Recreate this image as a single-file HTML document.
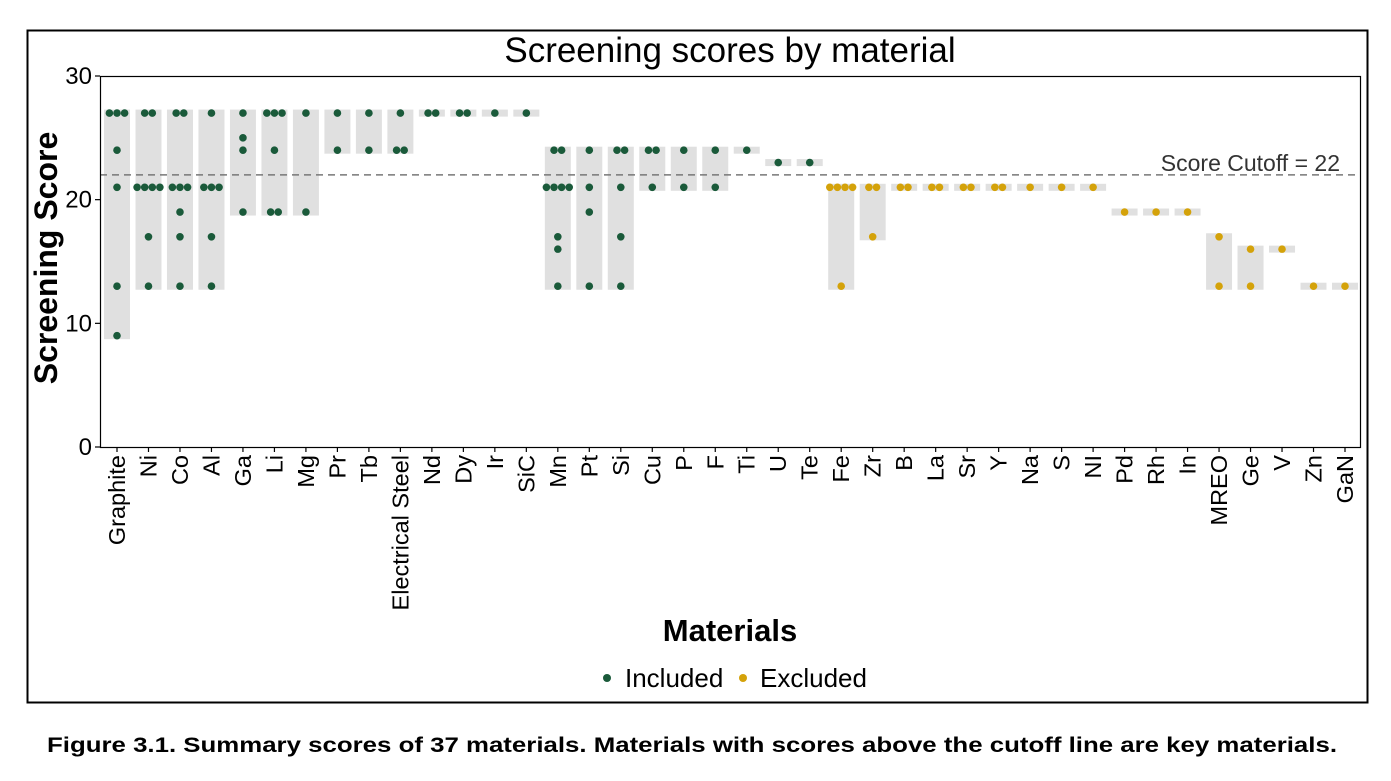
<!DOCTYPE html>
<html><head><meta charset="utf-8"><style>
body{margin:0;background:#fff;font-family:"Liberation Sans",Arial,sans-serif;}
</style></head><body>
<svg width="1391" height="776" viewBox="0 0 1391 776" xmlns="http://www.w3.org/2000/svg" font-family="Liberation Sans, Arial, sans-serif">
<rect x="27.5" y="30.5" width="1340" height="672" fill="none" stroke="#000" stroke-width="2"/>
<text x="730" y="62" font-size="35" text-anchor="middle">Screening scores by material</text>
<g id="plot"></g>
<rect x="100.5" y="76.5" width="1260" height="371" fill="none" stroke="#000" stroke-width="1.2"/>
<text transform="translate(57,258) rotate(-90)" font-size="32" font-weight="bold" text-anchor="middle">Screening Score</text>
<text x="730" y="641" font-size="31" font-weight="bold" text-anchor="middle">Materials</text>
<g>
<circle cx="607" cy="678" r="4" fill="#1a5a3a"/>
<text x="625" y="687" font-size="26">Included</text>
<circle cx="743" cy="678" r="4" fill="#d4a20a"/>
<text x="760" y="687" font-size="26">Excluded</text>
</g>
<text x="47" y="752" font-size="21" font-weight="bold" textLength="1290" lengthAdjust="spacingAndGlyphs">Figure 3.1. Summary scores of 37 materials. Materials with scores above the cutoff line are key materials.</text>
</svg>
<script>
const names=["Graphite","Ni","Co","Al","Ga","Li","Mg","Pr","Tb","Electrical Steel","Nd","Dy","Ir","SiC","Mn","Pt","Si","Cu","P","F","Ti","U","Te","Fe","Zr","B","La","Sr","Y","Na","S","NI","Pd","Rh","In","MREO","Ge","V","Zn","GaN"];
const scoreSets=[[27,27,27,24,21,13,9],[27,27,21,21,21,21,17,13],[27,27,21,21,21,19,17,13],[27,21,21,21,17,13],[27,25,24,19],[27,27,27,24,19,19],[27,19],[27,24],[27,24],[27,24,24],[27,27],[27,27],[27],[27],[24,24,21,21,21,21,17,16,13],[24,21,19,13],[24,24,21,17,13],[24,24,21],[24,21],[24,21],[24],[23],[23],[21,21,21,21,13],[21,21,17],[21,21],[21,21],[21,21],[21,21],[21],[21],[21],[19],[19],[19],[17,13],[16,13],[16],[13],[13]];
const includedCount=23;
const yTicks=[0,10,20,30];
const cutoff=22;
const NS="http://www.w3.org/2000/svg";
const plot=document.getElementById('plot');
const n=names.length;
const x=i=>117+i*(1345-117)/(n-1);
const y=v=>447-v*(371/30);
function mk(tag,attrs){const e=document.createElementNS(NS,tag);for(const k in attrs)e.setAttribute(k,attrs[k]);plot.appendChild(e);return e;}
yTicks.forEach(t=>{
 const l=mk('line',{x1:95,x2:100,y1:y(t),y2:y(t),stroke:'#000','stroke-width':1.2});
 
 
 const tx=mk('text',{x:92,y:y(t)+8,'font-size':24,'text-anchor':'end'});tx.textContent=t;
 
 
});
names.forEach((m,i)=>{
 const s=scoreSets[i];const mx=Math.max(...s),mn=Math.min(...s);
 const r=mk('rect',{x:x(i)-13,y:y(mx)-3.5,width:26,height:y(mn)-y(mx)+7,fill:'#e0e0e0'});
 
 
});
const cl=mk('line',{x1:100,x2:1361,y1:y(cutoff),y2:y(cutoff),stroke:'#777','stroke-width':1.5,'stroke-dasharray':'7,5'});


const ct=mk('text',{x:1340,y:y(cutoff)-4,'font-size':23,'text-anchor':'end',fill:'#333'});ct.textContent='Score Cutoff = '+cutoff;


names.forEach((m,i)=>{
 const s=scoreSets[i];const counts={};s.forEach(v=>counts[v]=(counts[v]||0)+1);
 const inc=i<includedCount;
 Object.keys(counts).forEach(v=>{const c=counts[v];for(let k=0;k<c;k++){
  const d=mk('circle',{cx:x(i)+(k-(c-1)/2)*7.6,cy:y(+v),r:3.8,fill:inc?'#1a5a3a':'#d4a20a'});
  
  
 }});
 const tk=mk('line',{x1:x(i),x2:x(i),y1:447,y2:452,stroke:'#000','stroke-width':1.2});
 
 
 const t=mk('text',{transform:`translate(${x(i)+8},455) rotate(-90)`,'font-size':23.5,'text-anchor':'end'});t.textContent=m;
 
 
});
</script>
</body></html>
